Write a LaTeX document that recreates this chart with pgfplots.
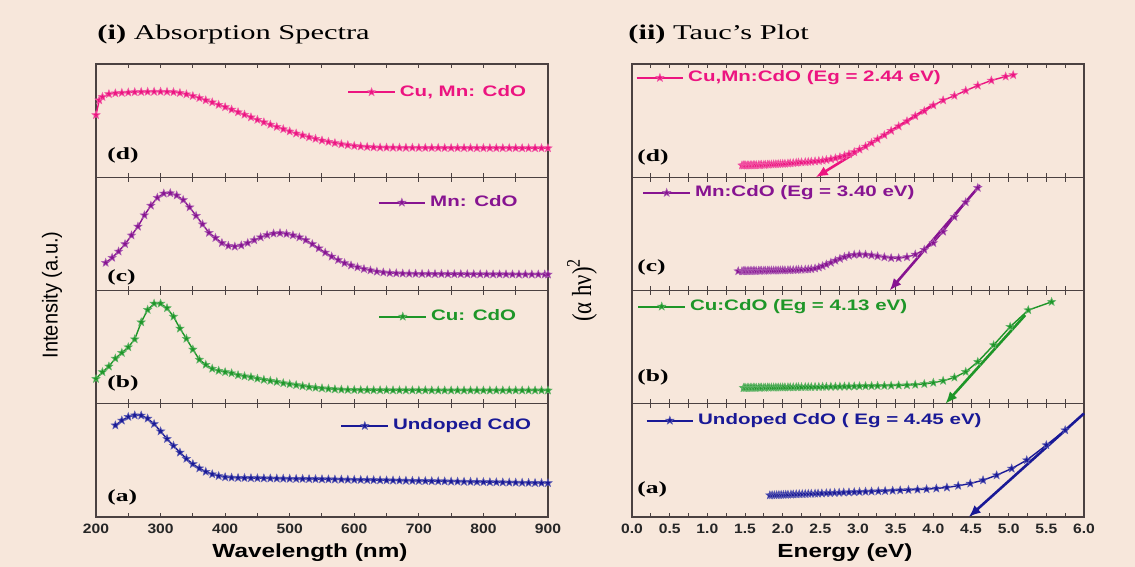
\documentclass[border=0pt]{standalone}
\usepackage{pgfplots}
\pgfplotsset{compat=1.18}
\usepackage{fontspec}
\setmainfont{Liberation Serif}
\setsansfont{Liberation Sans}
\usepackage{graphicx}
\usetikzlibrary{arrows.meta}

\definecolor{bgc}{RGB}{247,231,219}
\definecolor{cpink}{RGB}{236,20,128}
\definecolor{cpurp}{RGB}{135,20,145}
\definecolor{cgreen}{RGB}{30,150,40}
\definecolor{cblue}{RGB}{25,25,150}
\definecolor{frm}{RGB}{75,65,65}

\pgfdeclareplotmark{fstar}{%
 \pgfpathmoveto{\pgfpointpolar{90}{\pgfplotmarksize}}%
 \pgfpathlineto{\pgfpointpolar{126}{0.42\pgfplotmarksize}}%
 \pgfpathlineto{\pgfpointpolar{162}{\pgfplotmarksize}}%
 \pgfpathlineto{\pgfpointpolar{198}{0.42\pgfplotmarksize}}%
 \pgfpathlineto{\pgfpointpolar{234}{\pgfplotmarksize}}%
 \pgfpathlineto{\pgfpointpolar{270}{0.42\pgfplotmarksize}}%
 \pgfpathlineto{\pgfpointpolar{306}{\pgfplotmarksize}}%
 \pgfpathlineto{\pgfpointpolar{342}{0.42\pgfplotmarksize}}%
 \pgfpathlineto{\pgfpointpolar{18}{\pgfplotmarksize}}%
 \pgfpathlineto{\pgfpointpolar{54}{0.42\pgfplotmarksize}}%
 \pgfpathclose\pgfusepathqfillstroke}

\newcommand{\lgt}[2]{\textcolor{#1}{\scalebox{1.35}[1]{#2}}}
\newcommand{\plab}[1]{\scalebox{1.5}[1]{\textbf{#1}}}

\pgfplotsset{
 /pgf/number format/assume math mode=true,
 panel/.style={scale only axis, width=226pt, height=56.6pt, ymin=0, ymax=1,
   ytick=\empty, axis line style={frm, line width=0.6pt},
   tick align=inside, major tick length=2.2pt, minor tick length=2.2pt,
   every tick/.style={frm, line width=0.5pt}, clip=false,
   xticklabel style={font=\sffamily\bfseries\fontsize{6.8}{8}\selectfont, text=black!85},
   xticklabel={\scalebox{1.15}[1]{\pgfmathprintnumber{\tick}}},
   legend style={draw=none, fill=none, inner sep=0pt, anchor=west,
     font=\sffamily\bfseries\fontsize{7.6}{9}\selectfont, cells={anchor=west}},
   legend image code/.code={\draw[mark repeat=2,mark phase=2,##1,line width=1pt] plot coordinates {(0cm,0cm) (0.41cm,0cm) (0.82cm,0cm)};},
 },
 leftp/.style={panel, xmin=200, xmax=900, xtick={200,300,...,900}, minor tick num=1},
 rightp/.style={panel, xmin=0, xmax=6, xtick={0,0.5,1,1.5,2,2.5,3,3.5,4,4.5,5,5.5,6}, minor tick num=1,
   xticklabel style={/pgf/number format/fixed, /pgf/number format/fixed zerofill, /pgf/number format/precision=1}},
 nolab/.style={xticklabel={\phantom{0}}},
 ser/.style={color=#1, line width=0.7pt, mark=fstar, mark size=2.1pt, mark options={fill=#1, draw=#1!70!white, line width=0.3pt}},
 arr/.style={color=#1, line width=1.3pt, -{Latex[length=6pt,width=5pt]}, forget plot},
}

\begin{document}
\begin{tikzpicture}
\fill[bgc] (0pt,0pt) rectangle (567.5pt,283.5pt);
\useasboundingbox (0pt,0pt) rectangle (567.5pt,283.5pt);

% ---------------- LEFT: absorption spectra ----------------
\begin{axis}[leftp, at={(48pt,25pt)}, anchor=south west,
  legend style={at={(axis description cs:0.54,0.805)}}]
\addplot[ser=cblue] coordinates {
(230,0.81)(240,0.853)(250,0.885)(260,0.898)(270,0.897)(280,0.87)(290,0.822)(300,0.757)(310,0.69)(320,0.63)(330,0.57)(340,0.515)(350,0.468)(360,0.43)(370,0.4)(380,0.378)(390,0.362)(400,0.352)(410,0.348)(420,0.346)(430,0.345)(440,0.344)(450,0.343)(460,0.342)(470,0.341)(480,0.340)(490,0.339)(500,0.338)(510,0.337)(520,0.337)(530,0.336)(540,0.335)(550,0.334)(560,0.333)(570,0.332)(580,0.331)(590,0.330)(600,0.329)(610,0.328)(620,0.327)(630,0.326)(640,0.325)(650,0.324)(660,0.323)(670,0.322)(680,0.321)(690,0.320)(700,0.319)(710,0.318)(720,0.317)(730,0.316)(740,0.315)(750,0.314)(760,0.313)(770,0.312)(780,0.311)(790,0.310)(800,0.309)(810,0.308)(820,0.307)(830,0.306)(840,0.305)(850,0.304)(860,0.303)(870,0.302)(880,0.301)(890,0.300)(900,0.300)};
\addlegendentry{\lgt{cblue}{Undoped CdO}}
\end{axis}

\begin{axis}[leftp, nolab, at={(48pt,81.625pt)}, anchor=south west,
  legend style={at={(axis description cs:0.624,0.77)}}]
\addplot[ser=cgreen] coordinates {
(200,0.22)(210,0.28)(220,0.33)(230,0.40)(240,0.45)(250,0.50)(260,0.57)(270,0.72)(280,0.83)(290,0.885)(300,0.885)(310,0.845)(320,0.77)(330,0.665)(340,0.575)(350,0.48)(360,0.39)(370,0.345)(380,0.31)(390,0.292)(400,0.28)(410,0.27)(420,0.253)(430,0.243)(440,0.235)(450,0.222)(460,0.212)(470,0.203)(480,0.193)(490,0.182)(500,0.173)(510,0.165)(520,0.156)(530,0.148)(540,0.142)(550,0.137)(560,0.132)(570,0.128)(580,0.125)(590,0.123)(600,0.122)(610,0.121)(620,0.121)(630,0.120)(640,0.120)(650,0.120)(660,0.119)(670,0.119)(680,0.119)(690,0.119)(700,0.119)(710,0.119)(720,0.118)(730,0.118)(740,0.118)(750,0.118)(760,0.118)(770,0.118)(780,0.118)(790,0.118)(800,0.118)(810,0.118)(820,0.118)(830,0.118)(840,0.118)(850,0.118)(860,0.118)(870,0.118)(880,0.118)(890,0.118)(900,0.118)};
\addlegendentry{\lgt{cgreen}{Cu: CdO}}
\end{axis}

\begin{axis}[leftp, nolab, at={(48pt,138.25pt)}, anchor=south west,
  legend style={at={(axis description cs:0.622,0.777)}}]
\addplot[ser=cpurp] coordinates {
(215,0.245)(225,0.29)(235,0.345)(245,0.41)(255,0.487)(265,0.565)(275,0.665)(285,0.75)(295,0.82)(305,0.857)(315,0.86)(325,0.84)(335,0.80)(345,0.735)(355,0.66)(365,0.585)(375,0.51)(385,0.465)(395,0.42)(405,0.395)(415,0.388)(425,0.398)(435,0.42)(445,0.445)(455,0.47)(465,0.49)(475,0.503)(485,0.507)(495,0.5)(505,0.488)(515,0.47)(525,0.445)(535,0.41)(545,0.373)(555,0.335)(565,0.3)(575,0.27)(585,0.242)(595,0.222)(605,0.205)(615,0.19)(625,0.178)(635,0.167)(645,0.16)(655,0.155)(665,0.152)(675,0.15)(685,0.149)(695,0.148)(705,0.147)(715,0.147)(725,0.146)(735,0.146)(745,0.145)(755,0.145)(765,0.145)(775,0.144)(785,0.144)(795,0.144)(805,0.143)(815,0.143)(825,0.143)(835,0.143)(845,0.142)(855,0.142)(865,0.142)(875,0.142)(885,0.142)(895,0.142)(900,0.142)};
\addlegendentry{\lgt{cpurp}{Mn: CdO}}
\end{axis}

\begin{axis}[leftp, nolab, at={(48pt,194.875pt)}, anchor=south west,
  legend style={at={(axis description cs:0.555,0.752)}}]
\addplot[ser=cpink] coordinates {
(200,0.55)(205,0.68)(210,0.71)(220,0.735)(230,0.742)(240,0.746)(250,0.749)(260,0.752)(270,0.754)(280,0.755)(290,0.756)(300,0.756)(310,0.755)(320,0.752)(330,0.745)(340,0.733)(350,0.718)(360,0.70)(370,0.68)(380,0.662)(390,0.64)(400,0.62)(410,0.598)(420,0.575)(430,0.553)(440,0.53)(450,0.508)(460,0.486)(470,0.465)(480,0.445)(490,0.425)(500,0.405)(510,0.387)(520,0.37)(530,0.354)(540,0.34)(550,0.325)(560,0.313)(570,0.302)(580,0.292)(590,0.284)(600,0.277)(610,0.272)(620,0.268)(630,0.265)(640,0.263)(650,0.262)(660,0.262)(670,0.261)(680,0.261)(690,0.261)(700,0.260)(710,0.260)(720,0.260)(730,0.260)(740,0.259)(750,0.259)(760,0.259)(770,0.259)(780,0.259)(790,0.258)(800,0.258)(810,0.258)(820,0.258)(830,0.258)(840,0.258)(850,0.258)(860,0.257)(870,0.257)(880,0.257)(890,0.257)(900,0.257)};
\addlegendentry{\lgt{cpink}{Cu, Mn: CdO}}
\end{axis}

% ---------------- RIGHT: Tauc plots ----------------
\begin{axis}[rightp, at={(316pt,25pt)}, anchor=south west,
  legend style={at={(axis description cs:0.029,0.852)}}]
\addplot[ser=cblue] coordinates {
(1.83,0.192)(1.86,0.193)(1.89,0.193)(1.92,0.194)(1.95,0.195)(1.98,0.196)(2.01,0.196)(2.04,0.197)(2.07,0.198)(2.11,0.199)(2.14,0.200)(2.18,0.201)(2.22,0.202)(2.26,0.203)(2.30,0.204)(2.34,0.205)(2.38,0.206)(2.43,0.207)(2.47,0.208)(2.52,0.209)(2.58,0.211)(2.63,0.212)(2.69,0.214)(2.75,0.215)(2.81,0.217)(2.88,0.218)(2.95,0.220)(3.02,0.222)(3.10,0.224)(3.18,0.226)(3.27,0.228)(3.36,0.230)(3.46,0.233)(3.56,0.236)(3.67,0.239)(3.79,0.242)(3.91,0.246)(4.04,0.252)(4.18,0.261)(4.33,0.276)(4.49,0.296)(4.66,0.325)(4.84,0.369)(5.04,0.428)(5.24,0.502)(5.50,0.635)(5.75,0.767)};
\addlegendentry{\lgt{cblue}{Undoped CdO ( Eg = 4.45 eV)}}
\addplot[arr=cblue] coordinates {(6.0,0.915) (4.47,0)};
\end{axis}

\begin{axis}[rightp, nolab, at={(316pt,81.625pt)}, anchor=south west,
  legend style={at={(axis description cs:0.011,0.859)}}]
\addplot[ser=cgreen] coordinates {
(1.48,0.140)(1.49,0.140)(1.51,0.140)(1.53,0.141)(1.55,0.141)(1.57,0.141)(1.59,0.141)(1.61,0.142)(1.63,0.142)(1.65,0.142)(1.68,0.142)(1.70,0.143)(1.72,0.143)(1.75,0.143)(1.77,0.143)(1.80,0.144)(1.82,0.144)(1.85,0.144)(1.88,0.144)(1.91,0.145)(1.94,0.145)(1.97,0.145)(2.00,0.145)(2.03,0.146)(2.07,0.146)(2.10,0.146)(2.14,0.146)(2.18,0.147)(2.21,0.147)(2.25,0.147)(2.30,0.148)(2.34,0.148)(2.38,0.148)(2.43,0.149)(2.48,0.149)(2.53,0.150)(2.58,0.150)(2.64,0.151)(2.70,0.151)(2.76,0.152)(2.82,0.153)(2.88,0.153)(2.95,0.154)(3.02,0.155)(3.10,0.156)(3.18,0.157)(3.26,0.158)(3.35,0.159)(3.44,0.160)(3.54,0.162)(3.65,0.164)(3.76,0.168)(3.88,0.175)(4.00,0.186)(4.13,0.203)(4.28,0.232)(4.43,0.282)(4.59,0.370)(4.80,0.518)(5.02,0.680)(5.26,0.827)(5.57,0.900)};
\addlegendentry{\lgt{cgreen}{Cu:CdO (Eg = 4.13 eV)}}
\addplot[arr=cgreen] coordinates {(5.22,0.783) (4.16,0)};
\end{axis}

\begin{axis}[rightp, nolab, at={(316pt,138.25pt)}, anchor=south west,
  legend style={at={(axis description cs:0.022,0.863)}}]
\addplot[ser=cpurp] coordinates {
(1.41,0.171)(1.46,0.171)(1.48,0.171)(1.49,0.172)(1.51,0.172)(1.53,0.172)(1.55,0.173)(1.57,0.173)(1.59,0.173)(1.61,0.174)(1.63,0.174)(1.65,0.174)(1.68,0.175)(1.70,0.175)(1.72,0.175)(1.75,0.176)(1.77,0.176)(1.80,0.176)(1.82,0.177)(1.85,0.177)(1.88,0.177)(1.91,0.178)(1.94,0.178)(1.97,0.178)(2.00,0.179)(2.03,0.179)(2.07,0.180)(2.10,0.180)(2.14,0.181)(2.18,0.182)(2.21,0.183)(2.25,0.184)(2.30,0.185)(2.34,0.187)(2.38,0.190)(2.43,0.195)(2.48,0.204)(2.53,0.216)(2.58,0.230)(2.64,0.246)(2.70,0.264)(2.76,0.281)(2.82,0.296)(2.88,0.308)(2.95,0.316)(3.02,0.319)(3.10,0.317)(3.18,0.311)(3.26,0.303)(3.35,0.294)(3.44,0.287)(3.54,0.286)(3.65,0.295)(3.76,0.318)(3.88,0.360)(4.00,0.420)(4.13,0.520)(4.28,0.650)(4.43,0.780)(4.59,0.907)};
\addlegendentry{\lgt{cpurp}{Mn:CdO (Eg = 3.40 eV)}}
\addplot[arr=cpurp] coordinates {(4.62,0.93) (3.42,0)};
\end{axis}

\begin{axis}[rightp, nolab, at={(316pt,194.875pt)}, anchor=south west,
  legend style={at={(axis description cs:0.007,0.878)}}]
\addplot[ser=cpink] coordinates {
(1.46,0.105)(1.48,0.105)(1.49,0.105)(1.51,0.105)(1.53,0.105)(1.55,0.105)(1.57,0.106)(1.59,0.106)(1.61,0.107)(1.63,0.107)(1.65,0.108)(1.68,0.108)(1.70,0.109)(1.72,0.110)(1.75,0.110)(1.77,0.111)(1.80,0.112)(1.82,0.113)(1.85,0.114)(1.88,0.115)(1.91,0.116)(1.94,0.117)(1.97,0.118)(2.00,0.119)(2.03,0.120)(2.07,0.122)(2.10,0.124)(2.14,0.126)(2.18,0.128)(2.21,0.130)(2.25,0.132)(2.30,0.134)(2.34,0.136)(2.38,0.138)(2.43,0.141)(2.48,0.144)(2.53,0.148)(2.58,0.153)(2.64,0.160)(2.70,0.168)(2.76,0.178)(2.82,0.190)(2.88,0.203)(2.95,0.222)(3.02,0.245)(3.10,0.272)(3.18,0.303)(3.26,0.336)(3.35,0.372)(3.44,0.410)(3.54,0.450)(3.65,0.495)(3.76,0.540)(3.88,0.585)(4.00,0.635)(4.13,0.680)(4.28,0.720)(4.43,0.765)(4.59,0.810)(4.77,0.855)(4.96,0.890)(5.06,0.903)};
\addlegendentry{\lgt{cpink}{Cu,Mn:CdO (Eg = 2.44 eV)}}
\addplot[arr=cpink] coordinates {(4.0,0.64) (2.44,0)};
\end{axis}

% ---------------- texts ----------------
\node[anchor=west, inner sep=0pt, font=\fontsize{10.5}{12}\selectfont] at (48.5pt,266.5pt)
  {\scalebox{1.45}[1]{\textbf{(i)} Absorption Spectra}};
\node[anchor=west, inner sep=0pt, font=\fontsize{10.5}{12}\selectfont] at (314pt,266.5pt)
  {\scalebox{1.45}[1]{\textbf{(ii)} Tauc’s Plot}};

\begin{scope}[every node/.style={anchor=west, inner sep=0pt, font=\bfseries\fontsize{8.5}{10}\selectfont}]
\node at (53.5pt,206pt) {\plab{(d)}};
\node at (53.5pt,145pt) {\plab{(c)}};
\node at (53.5pt,92pt) {\plab{(b)}};
\node at (53.5pt,35pt) {\plab{(a)}};
\node at (318.5pt,205pt) {\plab{(d)}};
\node at (318.5pt,150pt) {\plab{(c)}};
\node at (318.5pt,95pt) {\plab{(b)}};
\node at (318.5pt,39pt) {\plab{(a)}};
\end{scope}

\node[inner sep=0pt, font=\sffamily\bfseries\fontsize{9.5}{11}\selectfont] at (155pt,7pt)
  {\scalebox{1.28}[1]{Wavelength (nm)}};
\node[inner sep=0pt, font=\sffamily\bfseries\fontsize{9.5}{11}\selectfont] at (422.5pt,7pt)
  {\scalebox{1.28}[1]{Energy (eV)}};

\node[rotate=90, inner sep=0pt, font=\sffamily\fontsize{8}{10}\selectfont] at (26pt,136pt)
  {\scalebox{1.25}[1.35]{Intensity (a.u.)}};
\node[rotate=90, inner sep=0pt, font=\fontsize{9.5}{11}\selectfont] at (291pt,138.5pt)
  {\scalebox{1.2}[1.45]{(α hν)\textsuperscript{2}}};
\end{tikzpicture}
\end{document}
